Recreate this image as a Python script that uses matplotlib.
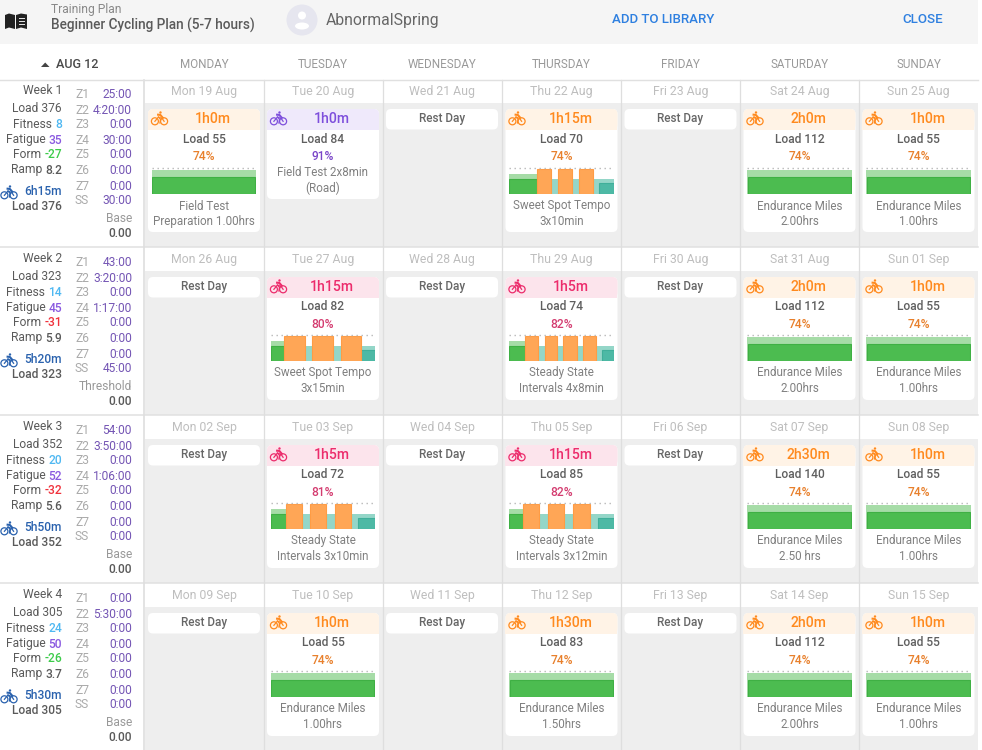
import matplotlib
matplotlib.use("Agg")
import matplotlib.pyplot as plt
from matplotlib.patches import Rectangle, FancyBboxPatch, Circle, Polygon, Ellipse

plt.rcParams["font.family"] = ["Roboto", "DejaVu Sans"]

W, H = 982, 750
px = 0.72  # css px -> pt at dpi 100

# week summaries
week_names = ["Week 1", "Week 2", "Week 3", "Week 4"]
week_load = [376, 323, 352, 305]
week_fitness = [8, 14, 20, 24]
week_fatigue = [35, 45, 52, 50]
week_form = [-27, -31, -32, -26]
week_ramp = [8.2, 5.9, 5.6, 3.7]
week_time = ["6h15m", "5h20m", "5h50m", "5h30m"]
week_focus = ["Base", "Threshold", "Base", "Base"]
zone_names = ["Z1", "Z2", "Z3", "Z4", "Z5", "Z6", "Z7", "SS"]
zone_times = [
    ["25:00", "4:20:00", "0:00", "30:00", "0:00", "0:00", "0:00", "30:00"],
    ["43:00", "3:20:00", "0:00", "1:17:00", "0:00", "0:00", "0:00", "45:00"],
    ["54:00", "3:50:00", "0:00", "1:06:00", "0:00", "0:00", "0:00", "0:00"],
    ["0:00", "5:30:00", "0:00", "0:00", "0:00", "0:00", "0:00", "0:00"],
]

day_names = ["MONDAY", "TUESDAY", "WEDNESDAY", "THURSDAY", "FRIDAY", "SATURDAY", "SUNDAY"]
dates = [
    ["Mon 19 Aug", "Tue 20 Aug", "Wed 21 Aug", "Thu 22 Aug", "Fri 23 Aug", "Sat 24 Aug", "Sun 25 Aug"],
    ["Mon 26 Aug", "Tue 27 Aug", "Wed 28 Aug", "Thu 29 Aug", "Fri 30 Aug", "Sat 31 Aug", "Sun 01 Sep"],
    ["Mon 02 Sep", "Tue 03 Sep", "Wed 04 Sep", "Thu 05 Sep", "Fri 06 Sep", "Sat 07 Sep", "Sun 08 Sep"],
    ["Mon 09 Sep", "Tue 10 Sep", "Wed 11 Sep", "Thu 12 Sep", "Fri 13 Sep", "Sat 14 Sep", "Sun 15 Sep"],
]

# workouts, None = rest day
durations = [
    ["1h0m", "1h0m", None, "1h15m", None, "2h0m", "1h0m"],
    [None, "1h15m", None, "1h5m", None, "2h0m", "1h0m"],
    [None, "1h5m", None, "1h15m", None, "2h30m", "1h0m"],
    [None, "1h0m", None, "1h30m", None, "2h0m", "1h0m"],
]
loads = [
    [55, 84, None, 70, None, 112, 55],
    [None, 82, None, 74, None, 112, 55],
    [None, 72, None, 85, None, 140, 55],
    [None, 55, None, 83, None, 112, 55],
]
intensity = [
    [74, 91, None, 74, None, 74, 74],
    [None, 80, None, 82, None, 74, 74],
    [None, 81, None, 82, None, 74, 74],
    [None, 74, None, 74, None, 74, 74],
]
workout_names = [
    [["Field Test", "Preparation 1.00hrs"], ["Field Test 2x8min", "(Road)"], None,
     ["Sweet Spot Tempo", "3x10min"], None, ["Endurance Miles", "2.00hrs"], ["Endurance Miles", "1.00hrs"]],
    [None, ["Sweet Spot Tempo", "3x15min"], None, ["Steady State", "Intervals 4x8min"], None,
     ["Endurance Miles", "2.00hrs"], ["Endurance Miles", "1.00hrs"]],
    [None, ["Steady State", "Intervals 3x10min"], None, ["Steady State", "Intervals 3x12min"], None,
     ["Endurance Miles", "2.50 hrs"], ["Endurance Miles", "1.00hrs"]],
    [None, ["Endurance Miles", "1.00hrs"], None, ["Endurance Miles", "1.50hrs"], None,
     ["Endurance Miles", "2.00hrs"], ["Endurance Miles", "1.00hrs"]],
]
# work intervals in % of the workout, None = no chart (field test)
intervals = [
    [[], None, None, [(27, 40), (46.5, 60), (67, 80)], None, [], []],
    [None, [(13, 33), (40, 60), (67, 87)], None, [(15.4, 27.6), (34, 46), (52, 65), (71, 83.3)], None, [], []],
    [None, [(15, 30.4), (38, 53.5), (61.5, 77)], None, [(13, 29), (37, 53), (61.5, 77.5)], None, [], []],
    [None, [], None, [], None, [], []],
]
cooldown_start = [
    [None, None, None, 86.5, None, None, None],
    [None, 86.5, None, 89, None, None, None],
    [None, 84, None, 85, None, None, None],
    [None, None, None, None, None, None, None],
]

col_x = [145, 265, 384, 503, 622, 741, 860]
card_x = [148, 267, 386, 505.5, 624.5, 743.5, 862.5]
row_y = [80, 248, 416, 584]
TXT = "#5A5A5A"


def intensity_colors(p):
    # header bg, title colour, percent colour
    if p >= 90:
        return "#EFE9FB", "#7E4FDC", "#7A45C8"
    if p >= 80:
        return "#FCE4EC", "#EC2C6C", "#D43C70"
    return "#FFF3E6", "#FF8A1E", "#E8802C"


def bike(ax, cx, cy, color, lw=0.9):
    ax.add_patch(Circle((cx - 4.6, cy + 2.8), 3.5, fill=False, ec=color, lw=lw, zorder=5))
    ax.add_patch(Circle((cx + 4.6, cy + 2.8), 3.5, fill=False, ec=color, lw=lw, zorder=5))
    ax.plot([cx - 4.6, cx - 1.0, cx + 2.8, cx + 4.6], [cy + 2.8, cy - 1.5, cy + 0.2, cy + 2.8], color=color, lw=lw, zorder=5)
    ax.plot([cx - 1.0, cx + 1.0, cx + 0.4], [cy - 1.5, cy + 0.8, cy + 4.5], color=color, lw=lw, zorder=5)
    ax.plot([cx - 1.4, cx + 0.8, cx + 3.2], [cy - 3.8, cy - 3.6, cy - 0.8], color=color, lw=lw + 0.6, zorder=5)
    ax.add_patch(Circle((cx + 1.0, cy - 6.0), 1.2, color=color, lw=0, zorder=5))


def round_box(ax, x0, y0, x1, y1, fc, r=5, z=3):
    ax.add_patch(FancyBboxPatch((x0 + r, y0 + r), x1 - x0 - 2 * r, y1 - y0 - 2 * r,
                                boxstyle="round,pad=%d,rounding_size=%d" % (r, r), fc=fc, ec="none", zorder=z))


def workout_chart(x0, y_top, i, j):
    # chart from the dotted ceiling down to the baseline, 0-100 on both axes
    cax = fig.add_axes([x0 / W, 1 - (y_top + 26) / H, 104.5 / W, 26 / H])
    cax.set_xlim(0, 100)
    cax.set_ylim(0, 100)
    cax.axis("off")
    work = intervals[i][j]
    cool = cooldown_start[i][j]
    cax.axhline(100, color="#B8B8B8", lw=1.0, ls=(0, (1, 2.6)), clip_on=False)
    if not work:
        cax.bar(0, 91, 100, align="edge", color="#A6DCA7", lw=0)
        cax.bar(0.5, 64, 99, align="edge", color="#4CBC50", ec="#3FB044", lw=0.8)
        return
    start = work[0][0]
    cax.bar(0, 76, start, align="edge", color="#A6DCA7", lw=0)
    cax.bar(start, 57, 100 - start, align="edge", color="#94D6C8", lw=0)
    cax.bar(0, 56, start, align="edge", color="#4CBC50", ec="#3FB044", lw=0.8)
    cax.bar(cool, 42, 100 - cool, align="edge", color="#4DB9A5", ec="#3FAF9A", lw=0.8)
    for a, b in work:
        cax.bar(a, 97, b - a, align="edge", color="#FFA656", ec="#FF9C44", lw=0.8)


fig = plt.figure(figsize=(W / 100, H / 100), dpi=100)
ax = fig.add_axes([0, 0, 1, 1])
ax.set_xlim(0, W)
ax.set_ylim(H, 0)
ax.axis("off")


def T(x, y, s, size=12, color=TXT, ha="center", weight="normal", z=6):
    return ax.text(x, y, s, fontsize=size * px, color=color, ha=ha, va="center", fontweight=weight, zorder=z)


# top bar
ax.add_patch(Rectangle((0, 0), 978, 44, fc="#F5F5F5", ec="none"))
ax.add_patch(Polygon([(5, 15), (9, 13.5), (15, 15), (15, 29), (9, 27.5), (5, 29)], fc="#222222", ec="none"))
ax.add_patch(Polygon([(16, 15), (21, 13.5), (27, 14.5), (27, 29), (21, 27.5), (16, 29)], fc="#222222", ec="none"))
for yy in (18, 21, 24):
    ax.plot([19, 24], [yy, yy], color="#E8E8E8", lw=0.7, zorder=3)
T(51, 10, "Training Plan", 12, "#888888", "left")
T(51, 25.5, "Beginner Cycling Plan (5-7 hours)", 13.6, "#5A5A5A", "left", "medium")
ax.add_patch(Circle((302, 20), 15.5, fc="#E6E6EF", ec="none"))
ax.add_patch(Circle((302, 15.5), 4, fc="white", ec="none", zorder=3))
ax.add_patch(Ellipse((302, 26), 14, 7, fc="white", ec="none", zorder=3))
T(326, 20, "AbnormalSpring", 15.8, "#666666", "left")
T(663.5, 19.5, "ADD TO LIBRARY", 13.3, "#2F80E0", "center", "medium")
T(923, 19.5, "CLOSE", 13.4, "#2F80E0", "center", "medium")

# day header
ax.add_patch(Polygon([(41, 67), (49.5, 67), (45.2, 62.5)], fc="#444444", ec="none"))
T(56, 65, "AUG 12", 12.6, "#4A4A4A", "left", "medium")
for j, d in enumerate(day_names):
    T(card_x[j] + 56, 64, d, 11.6, "#999999")
ax.plot([0, 978], [80, 80], color="#E0E0E0", lw=1.0)

# grey body behind cards
for i, y in enumerate(row_y):
    bottom = y + 167 if i < 3 else H
    ax.add_patch(Rectangle((145, y + 23), 833, bottom - y - 23, fc="#EEEEEE", ec="none", zorder=0.5))
    if i < 3:
        ax.plot([0, 978], [bottom, bottom], color="#E0E0E0", lw=1.1, zorder=1)
for cx in col_x:
    ax.plot([cx - 0.5, cx - 0.5], [80, H], color="#DEDEDE", lw=1.2 if cx == 145 else 0.9, zorder=1)

for i, y in enumerate(row_y):
    dy = 168 * i
    # contents under the card header sit a touch higher from week 2 on
    nudge = 1 if i else 0
    # left column, right aligned at x=62
    T(62, 90 + dy, week_names[i], 12, TXT, "right")
    T(62, 108 + dy, "Load %d" % week_load[i], 12, TXT, "right")
    T(62, 191.5 + dy, week_time[i], 12, "#2A62AE", "right", "medium")
    T(62, 206 + dy, "Load %d" % week_load[i], 12, TXT, "right", "medium")
    bike(ax, 9, 192.5 + dy, "#2A62AE")
    for yy, lab, val, col in [
        (124, "Fitness ", week_fitness[i], "#4FB8F2"),
        (140, "Fatigue ", week_fatigue[i], "#8A5AE0"),
        (155, "Form ", week_form[i], "#3CCB4A" if week_form[i] > -30 else "#F0323C"),
        (170, "Ramp ", week_ramp[i], TXT),
    ]:
        v = T(62, yy + dy, str(val), 12, col, "right", "medium")
        width = v.get_window_extent(fig.canvas.get_renderer()).width
        T(59 - width, yy + dy, lab.rstrip(), 12, TXT, "right")
    for k, yy in enumerate([95, 110, 124, 140, 155, 170, 186, 200]):
        T(75, yy + dy, zone_names[k], 12, "#AAAAAA", "left")
        T(132, yy + dy, zone_times[i][k], 12, "#7455B4", "right")
    T(132, 219 + dy, week_focus[i], 12, "#999999", "right")
    T(132, 233.5 + dy, "0.00", 12, TXT, "right", "medium")

    for j, card in enumerate(card_x):
        mid = card + 56
        T(mid, 91 + dy, dates[i][j], 12.2, "#BEBEBE")
        if durations[i][j] is None:
            round_box(ax, card, 109 + dy, card + 112, 129.5 + dy, "white")
            T(mid, 118.5 + dy, "Rest Day", 11.8, "#666666", "center", "medium")
            continue
        bg, title, pct = intensity_colors(intensity[i][j])
        has_chart = intervals[i][j] is not None
        bottom = (232 if has_chart else 199) + dy
        round_box(ax, card, 109 + dy, card + 112, bottom, "white")
        round_box(ax, card, 109 + dy, card + 112, 129.5 + dy, bg, z=4)
        ax.add_patch(Rectangle((card, 120 + dy), 112, 9.5, fc=bg, ec="none", zorder=4))
        bike(ax, card + 11.5, 118.5 + dy, title)
        T(mid + 9, 119 + dy, durations[i][j], 14, title, "center", "medium")
        T(mid, 139.5 + dy - nudge * 0.5, "Load %d" % loads[i][j], 12, "#5F5F5F", "center", "medium")
        T(mid, 156.5 + dy - nudge * 0.5, "%d%%" % intensity[i][j], 12, pct, "center", "medium")
        name = workout_names[i][j]
        if has_chart:
            workout_chart(card + 3.5, 168 + dy - nudge, i, j)
            T(mid, 206 + dy - nudge * 1.5, name[0], 11.6, "#808080")
            T(mid, 221.5 + dy - nudge * 1.5, name[1], 11.6, "#808080")
        else:
            T(mid, 172.5 + dy, name[0], 11.6, "#808080")
            T(mid, 188 + dy, name[1], 11.6, "#808080")

fig.savefig("out.png", dpi=100, facecolor="white")
